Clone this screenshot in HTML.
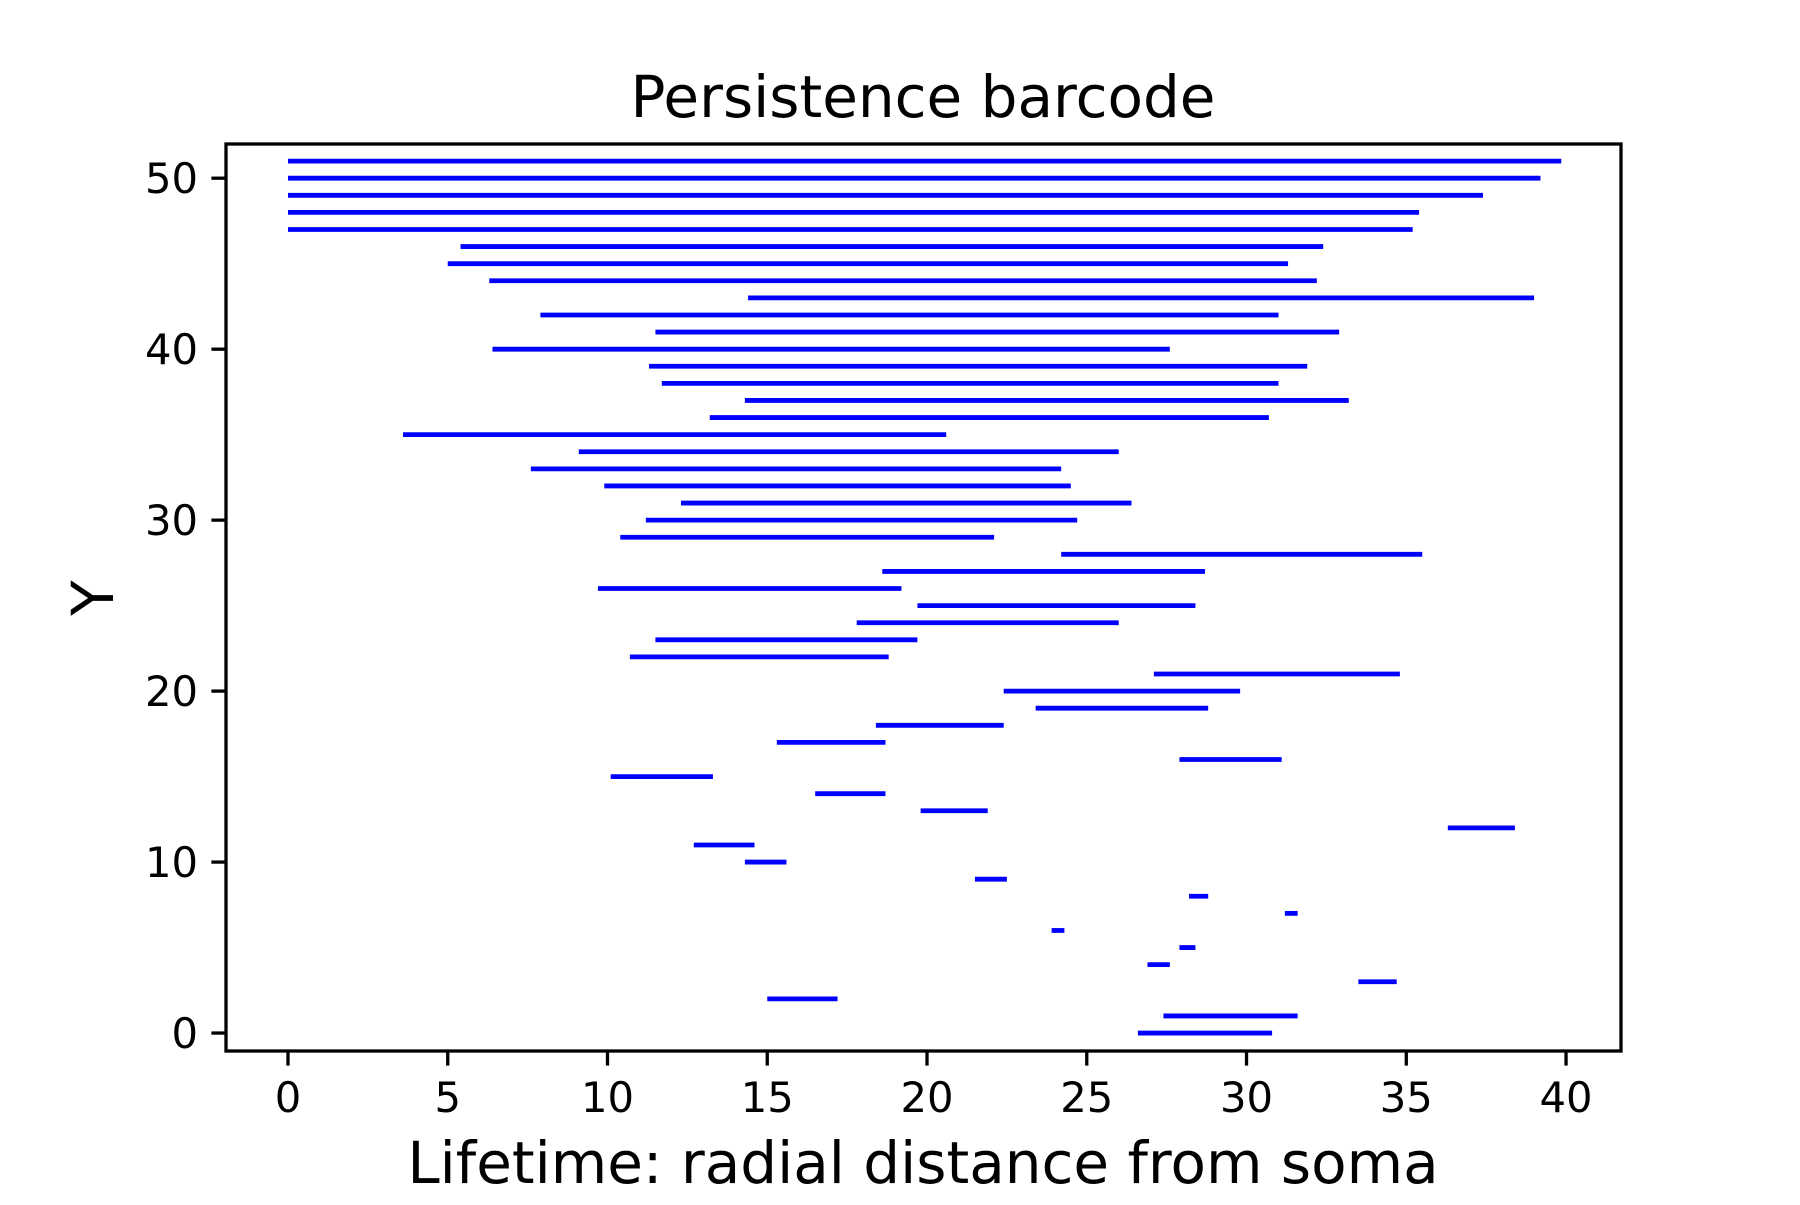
<!DOCTYPE html>
<html><head><meta charset="utf-8"><style>
html,body{margin:0;padding:0;background:#fff;}
svg text{font-family:"DejaVu Sans","Liberation Sans",sans-serif;fill:#000;}
</style></head><body>
<svg id="chart" width="1800" height="1200" viewBox="0 0 1800 1200" xmlns="http://www.w3.org/2000/svg">
<rect width="1800" height="1200" fill="#fff"/>
<text x="923" y="117" font-size="58" text-anchor="middle">Persistence barcode</text>
<g id="bars"></g>
<g id="axes"></g>
<text x="923" y="1183" font-size="58" text-anchor="middle">Lifetime: radial distance from soma</text>
<text x="0" y="0" font-size="58" text-anchor="middle" transform="translate(113,598) rotate(-90)">Y</text>
</svg>
<script>
const barStarts = [26.6,27.4,15.0,33.5,26.9,27.9,23.9,31.2,28.2,21.5,14.3,12.7,36.3,19.8,16.5,10.1,27.9,15.3,18.4,23.4,22.4,27.1,10.7,11.5,17.8,19.7,9.7,18.6,24.2,10.4,11.2,12.3,9.9,7.6,9.1,3.6,13.2,14.3,11.7,11.3,6.4,11.5,7.9,14.4,6.3,5.0,5.4,0,0,0,0,0];
const barEnds = [30.8,31.6,17.2,34.7,27.6,28.4,24.3,31.6,28.8,22.5,15.6,14.6,38.4,21.9,18.7,13.3,31.1,18.7,22.4,28.8,29.8,34.8,18.8,19.7,26.0,28.4,19.2,28.7,35.5,22.1,24.7,26.4,24.5,24.2,26.0,20.6,30.7,33.2,31.0,31.9,27.6,32.9,31.0,39.0,32.2,31.3,32.4,35.2,35.4,37.4,39.2,39.85];
const xTicks = [0,5,10,15,20,25,30,35,40];
const yTicks = [0,10,20,30,40,50];

const L=226,R=1621,T=144,B=1051;
const xMin=-1.94,xMax=41.72,yMin=-1.05,yMax=52.0;
function xs(v){return L+(v-xMin)/(xMax-xMin)*(R-L);}
function ys(v){return B-(v-yMin)/(yMax-yMin)*(B-T);}
const NS='http://www.w3.org/2000/svg';
function mk(tag,attrs,parent){const e=document.createElementNS(NS,tag);for(const k in attrs)e.setAttribute(k,attrs[k]);parent.appendChild(e);return e;}
const bars=document.getElementById('bars');
barStarts.forEach((s,i)=>{
  const ln=mk('line',{x1:xs(s),x2:xs(barEnds[i]),y1:ys(i),y2:ys(i),stroke:'#0000ff','stroke-width':4.8},bars);
  
  
});
const ax=document.getElementById('axes');
const frame=mk('rect',{x:L,y:T,width:R-L,height:B-T,fill:'none',stroke:'#000','stroke-width':3.3},ax);


xTicks.forEach(v=>{
  const x=xs(v);
  const t=mk('line',{x1:x,x2:x,y1:B,y2:B+14.6,stroke:'#000','stroke-width':3.3},ax);
  
  
  const lb=mk('text',{x:x,y:1112,'font-size':41.7,'text-anchor':'middle'},ax);
  lb.textContent=v;
  
  
});
yTicks.forEach(v=>{
  const y=ys(v);
  const t=mk('line',{x1:L-14.6,x2:L,y1:y,y2:y,stroke:'#000','stroke-width':3.3},ax);
  
  
  const lb=mk('text',{x:198,y:y+15,'font-size':41.7,'text-anchor':'end'},ax);
  lb.textContent=v;
  
  
});
</script>
</body></html>
